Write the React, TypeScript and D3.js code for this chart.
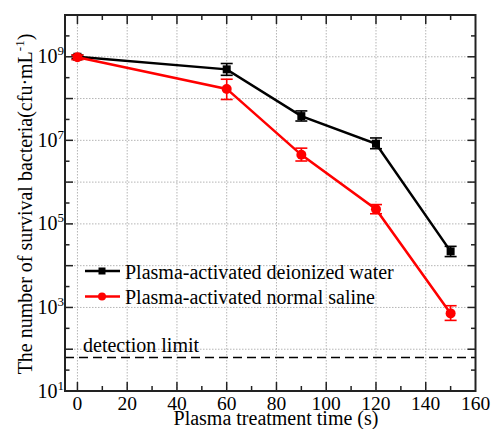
import React from "react";
import * as d3 from "d3";

const times = [0, 60, 90, 120, 150];
const waterValues = [1e9, 5e8, 3.8e7, 8.3e6, 2.2e4];
const waterLow = [0.9e9, 3.6e8, 2.9e7, 6.3e6, 1.65e4];
const waterHigh = [1.1e9, 6.9e8, 5.06e7, 1.14e7, 2.9e4];
const salineValues = [0.97e9, 1.7e8, 4.5e6, 2.25e5, 7.2e2];
const salineLow = [0.85e9, 9.5e7, 3.2e6, 1.75e5, 4.9e2];
const salineHigh = [1.1e9, 2.9e8, 6.5e6, 2.9e5, 1.1e3];
const xTicks = [0, 20, 40, 60, 80, 100, 120, 140, 160];
const xMinorTicks = [10, 30, 50, 70, 90, 110, 130, 150];
const yLabelExps = [1, 3, 5, 7, 9];
const detectionLimit = 63;
const seriesNames = ["Plasma-activated deionized water", "Plasma-activated normal saline"];

const W = 491, H = 429;
const L = 65, R = 475.5, T = 15, B = 391;
const fontStyle = { fontFamily: '"Liberation Serif", "Times New Roman", serif' };

export default function App() {
  const x = d3.scaleLinear().domain([-5, 160]).range([L, R]);
  const y = d3.scaleLog().domain([10, 1e10]).range([B, T]);
  const line = d3.line<number>().x((_, i) => x(times[i])).y((v) => y(v));
  const decades = d3.range(1, 11);
  const halfDecades = d3.range(1.5, 10, 1);
  const gridDecades = d3.range(2, 10);
  const gridX = xTicks.filter((t) => t < 160);

  const errBars = (lo: number[], hi: number[], color: string) =>
    times.map((t, i) => (
      <g key={i} stroke={color} strokeWidth={1.6}>
        <line x1={x(t)} x2={x(t)} y1={y(lo[i])} y2={y(hi[i])} />
        <line x1={x(t) - 6} x2={x(t) + 6} y1={y(lo[i])} y2={y(lo[i])} />
        <line x1={x(t) - 6} x2={x(t) + 6} y1={y(hi[i])} y2={y(hi[i])} />
      </g>
    ));

  return (
    <svg width={W} height={H} style={{ position: "absolute", left: 0, top: 0, background: "#fff" }}>
      {/* grid */}
      <g stroke="#b5b5b5" strokeWidth={1} strokeDasharray="1.5,1.5">
        {gridX.map((t) => (
          <line key={"gx" + t} x1={x(t)} x2={x(t)} y1={T} y2={B} />
        ))}
        {gridDecades.map((e) => (
          <line key={"gy" + e} x1={L} x2={R} y1={y(Math.pow(10, e))} y2={y(Math.pow(10, e))} />
        ))}
      </g>
      {/* detection limit */}
      <line x1={L} x2={R} y1={y(detectionLimit)} y2={y(detectionLimit)} stroke="#000" strokeWidth={1.5} strokeDasharray="9,5" />
      <text x={83} y={y(detectionLimit) - 6} fontSize={20} fill="#000" style={fontStyle}>detection limit</text>

      {/* ticks */}
      <g stroke="#222" strokeWidth={1.5}>
        {xTicks.filter((t) => t >= 0 && t < 160).map((t) => (
          <g key={"xt" + t}>
            <line x1={x(t)} x2={x(t)} y1={B} y2={B - 9} />
            <line x1={x(t)} x2={x(t)} y1={T} y2={T + 9} />
          </g>
        ))}
        {xMinorTicks.map((t) => (
          <g key={"xm" + t}>
            <line x1={x(t)} x2={x(t)} y1={B} y2={B - 5} />
            <line x1={x(t)} x2={x(t)} y1={T} y2={T + 5} />
          </g>
        ))}
        {decades.map((e) => (
          <g key={"yt" + e}>
            <line x1={L} x2={L + 8} y1={y(Math.pow(10, e))} y2={y(Math.pow(10, e))} />
            <line x1={R} x2={R - 8} y1={y(Math.pow(10, e))} y2={y(Math.pow(10, e))} />
          </g>
        ))}
        {halfDecades.map((e) => (
          <g key={"ym" + e}>
            <line x1={L} x2={L + 4.5} y1={y(Math.pow(10, e))} y2={y(Math.pow(10, e))} />
            <line x1={R} x2={R - 4.5} y1={y(Math.pow(10, e))} y2={y(Math.pow(10, e))} />
          </g>
        ))}
      </g>

      {/* frame */}
      <rect x={L} y={T} width={R - L} height={B - T} fill="none" stroke="#222" strokeWidth={2} />

      {/* tick labels */}
      {xTicks.map((t) => (
        <text key={"xl" + t} x={x(t)} y={409.5} fontSize={19.5} textAnchor="middle" fill="#000" style={fontStyle}>{t}</text>
      ))}
      {yLabelExps.map((e) => (
        <text key={"yl" + e} x={64} y={y(Math.pow(10, e)) + 6.5} fontSize={20} textAnchor="end" fill="#000" style={fontStyle}>
          10<tspan fontSize={13} dy={-8}>{e}</tspan>
        </text>
      ))}

      {/* axis titles */}
      <text x={276} y={425} fontSize={20} textAnchor="middle" fill="#000" style={fontStyle}>Plasma treatment time (s)</text>
      <text transform={`translate(32,${(32 + 376) / 2}) rotate(-90)`} fontSize={20} textAnchor="middle" fill="#000" style={fontStyle}>
        The number of survival bacteria(cfu·mL<tspan fontSize={13} dy={-8}>-1</tspan><tspan dy={8}>)</tspan>
      </text>

      {/* series */}
      {errBars(waterLow, waterHigh, "#000")}
      {errBars(salineLow, salineHigh, "#ff0000")}
      <path d={line(waterValues) || ""} fill="none" stroke="#000" strokeWidth={2.5} />
      <path d={line(salineValues) || ""} fill="none" stroke="#ff0000" strokeWidth={2.5} />
      {times.map((t, i) => (
        <rect key={"wm" + i} x={x(t) - 4} y={y(waterValues[i]) - 4} width={8} height={8} fill="#000" />
      ))}
      {times.map((t, i) => (
        <circle key={"sm" + i} cx={x(t)} cy={y(salineValues[i])} r={5} fill="#ff0000" />
      ))}

      {/* legend */}
      <line x1={85} x2={120} y1={271} y2={271} stroke="#000" strokeWidth={2.5} />
      <rect x={98.5} y={267.5} width={7} height={7} fill="#000" />
      <text x={125} y={279} fontSize={20} fill="#000" style={fontStyle}>{seriesNames[0]}</text>
      <line x1={85} x2={120} y1={296.5} y2={296.5} stroke="#ff0000" strokeWidth={2.5} />
      <circle cx={102} cy={296.5} r={4} fill="#ff0000" />
      <text x={125} y={303.5} fontSize={20} fill="#000" style={fontStyle}>{seriesNames[1]}</text>
    </svg>
  );
}
